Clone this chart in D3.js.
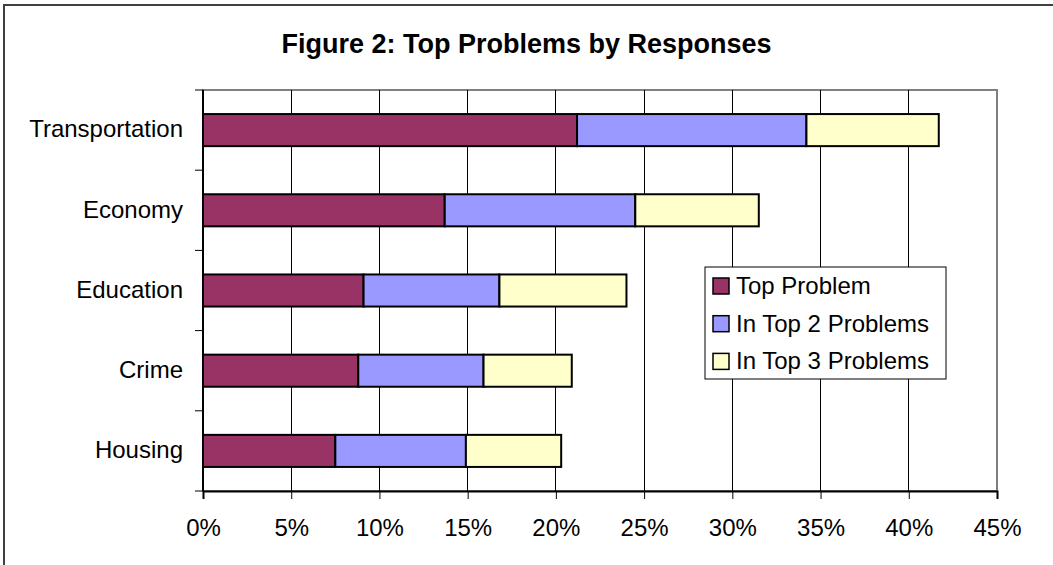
<!DOCTYPE html>
<html lang="en">
<head>
  <meta charset="UTF-8">
  <title>Figure 2: Top Problems by Responses</title>
  <style>
    body { margin: 0; background: #fff; }
    svg text { font-family: "Liberation Sans", Arial, sans-serif; fill: #000; }
  </style>
</head>
<body>
  <div id="chart"></div>
  <script src="https://d3js.org/d3.v7.min.js"></script>
  <script>

    // data (percent of responses)
    const categories = ["Transportation", "Economy", "Education", "Crime", "Housing"];
    const seriesNames = ["Top Problem", "In Top 2 Problems", "In Top 3 Problems"];
    const topProblem = [21.2, 13.7, 9.1, 8.8, 7.5];
    const inTop2 = [13.0, 10.8, 7.7, 7.1, 7.4];
    const inTop3 = [7.5, 7.0, 7.2, 5.0, 5.4];
    const xTicks = [0, 5, 10, 15, 20, 25, 30, 35, 40, 45];
    const colors = ["#993366", "#9999ff", "#ffffcc"];

    const width = 1053,
          height = 565,
          margin = {top: 90, right: 56, bottom: 74, left: 203};

    const svg = d3.select("#chart")
      .append("svg")
      .attr("width", width)
      .attr("height", height);

    // outer frame (cut off at right and bottom like the original)
    svg.append("rect")
      .attr("x", 4).attr("y", 5)
      .attr("width", width + 10).attr("height", height + 10)
      .attr("fill", "#fff")
      .attr("stroke", "#404040")
      .attr("stroke-width", 2);

    const data = categories.map((c, i) => ({
      Category: c,
      "Top Problem": topProblem[i],
      "In Top 2 Problems": inTop2[i],
      "In Top 3 Problems": inTop3[i]
    }));

    const x = d3.scaleLinear([0, 45], [margin.left, width - margin.right]);
    const y = d3.scaleBand(categories, [margin.top, height - margin.bottom])
      .paddingInner(0.6)
      .paddingOuter(0.3);

    const color = d3.scaleOrdinal(seriesNames, colors);

    // plot area border (gray top/right)
    svg.append("rect")
      .attr("x", x(0)).attr("y", margin.top)
      .attr("width", x(45) - x(0))
      .attr("height", height - margin.bottom - margin.top)
      .attr("fill", "none")
      .attr("stroke", "#808080")
      .attr("stroke-width", 2);

    // gridlines
    svg.append("g")
      .selectAll("line")
      .data(xTicks.slice(1, -1))
      .join("line")
      .attr("x1", d => x(d)).attr("x2", d => x(d))
      .attr("y1", margin.top).attr("y2", height - margin.bottom)
      .attr("stroke", "#000")
      .attr("stroke-width", 1)
      .attr("shape-rendering", "crispEdges");

    const stacked = d3.stack().keys(seriesNames)(data);

    svg.append("g")
      .selectAll("g")
      .data(stacked)
      .join("g")
      .attr("fill", d => color(d.key))
      .selectAll("rect")
      .data(d => d)
      .join("rect")
      .attr("x", d => x(d[0]))
      .attr("y", d => y(d.data.Category))
      .attr("width", d => x(d[1]) - x(d[0]))
      .attr("height", y.bandwidth())
      .attr("stroke", "#000")
      .attr("stroke-width", 2);

    // x axis
    const xAxis = svg.append("g")
      .attr("transform", `translate(0,${height - margin.bottom})`)
      .call(d3.axisBottom(x).tickValues(xTicks).tickFormat(d => d + "%").tickSize(8).tickPadding(20));
    xAxis.select(".domain").attr("stroke", "#000").attr("stroke-width", 2);
    xAxis.selectAll(".tick line").attr("stroke", "#000");
    xAxis.selectAll("text").style("font-size", "24px").attr("font-family", null);

    // y axis: ticks at band boundaries
    const boundaries = d3.range(categories.length + 1)
      .map(i => margin.top + i * y.step());
    svg.append("line")
      .attr("x1", x(0)).attr("x2", x(0))
      .attr("y1", margin.top).attr("y2", height - margin.bottom)
      .attr("stroke", "#000").attr("stroke-width", 2);
    svg.append("g")
      .selectAll("line")
      .data(boundaries)
      .join("line")
      .attr("x1", x(0) - 8).attr("x2", x(0))
      .attr("y1", d => d).attr("y2", d => d)
      .attr("stroke", "#000");

    svg.append("g")
      .selectAll("text")
      .data(categories)
      .join("text")
      .attr("x", x(0) - 20)
      .attr("y", d => y(d) + y.bandwidth() / 2)
      .attr("dy", "0.3em")
      .attr("text-anchor", "end")
      .style("font-size", "24px")
      .text(d => d);

    // title
    svg.append("text")
      .attr("x", width / 2)
      .attr("y", 53)
      .attr("text-anchor", "middle")
      .style("font-size", "27px")
      .style("font-weight", "bold")
      .text("Figure 2: Top Problems by Responses");

    // legend
    const legend = svg.append("g").attr("transform", "translate(705,267)");
    legend.append("rect")
      .attr("width", 241).attr("height", 112)
      .attr("fill", "#fff").attr("stroke", "#000");
    const item = legend.selectAll(".legend-item")
      .data(seriesNames)
      .join("g")
      .attr("class", "legend-item")
      .attr("transform", (d, i) => `translate(8,${11 + i * 37.7})`);
    item.append("rect")
      .attr("width", 16).attr("height", 16)
      .attr("fill", d => color(d))
      .attr("stroke", "#000").attr("stroke-width", 1.5);
    item.append("text")
      .attr("x", 23)
      .attr("y", 16)
      .style("font-size", "24px")
      .text(d => d);

  </script>
</body>
</html>
